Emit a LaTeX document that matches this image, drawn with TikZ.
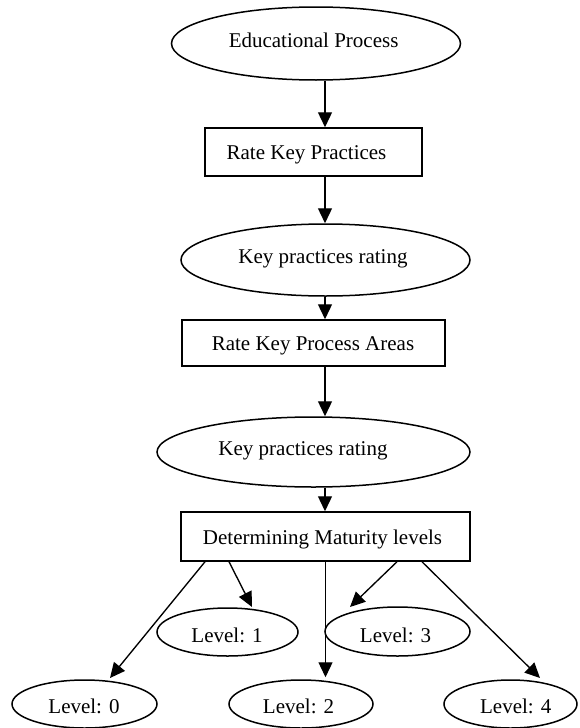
\documentclass[tikz,border=0pt]{standalone}
\usepackage{fontspec}
\setmainfont{Liberation Serif}
\usetikzlibrary{arrows.meta,shapes.geometric}
\begin{document}
\begin{tikzpicture}[x=1pt,y=-1pt,
  outline/.style={draw=black,line width=1.5pt,inner sep=0pt},
  oval/.style={outline,ellipse},
  box/.style={outline,rectangle},
  caption/.style={font=\fontsize{21}{25}\selectfont,inner sep=0pt,text height=14pt,text depth=0pt},
  flow/.style={line width=1.35pt,-{Triangle[length=15pt,width=14pt]}}
]
\useasboundingbox (0,0) rectangle (579,728);
\coordinate (col) at (325,0);

% main chain
\node[oval,minimum width=289pt,minimum height=73pt] (edu) at (316,43.5) {};
\node[caption] (edu-t) at (313.6,40) {Educational Process};

\node[box,minimum width=217pt,minimum height=48pt] (rkp) at (313.5,152) {};
\node[caption] (rkp-t) at (306.5,152) {Rate Key Practices};

\node[oval,minimum width=289pt,minimum height=72pt] (kpr1) at (325.5,260) {};
\node[caption] (kpr1-t) at (323,256) {Key practices rating};

\node[box,minimum width=263pt,minimum height=46pt] (rkpa) at (313.5,343) {};
\node[caption] (rkpa-t) at (313,343) {Rate Key Process Areas};

\node[oval,minimum width=313pt,minimum height=70pt] (kpr2) at (313.5,452) {};
\node[caption] (kpr2-t) at (303,448) {Key practices rating};

\node[box,minimum width=289pt,minimum height=49pt] (mat) at (325.5,536.5) {};
\node[caption] (mat-t) at (322.5,537) {Determining Maturity levels};

% maturity levels
\node[oval,minimum width=145pt,minimum height=48pt] (l0) at (84.5,704) {};
\node[caption] (l0-t) at (84,706) {Level: 0};
\node[oval,minimum width=141pt,minimum height=48pt] (l1) at (227.5,632) {};
\node[caption] (l1-t) at (227,635) {Level: 1};
\node[oval,minimum width=144pt,minimum height=48pt] (l2) at (301,704) {};
\node[caption] (l2-t) at (298.5,706) {Level: 2};
\node[oval,minimum width=145pt,minimum height=49pt] (l3) at (397.5,631.5) {};
\node[caption] (l3-t) at (395.5,635) {Level: 3};
\node[oval,minimum width=133pt,minimum height=48pt] (l4) at (510.5,704) {};
\node[caption] (l4-t) at (515.7,706) {Level: 4};

% vertical flow
\draw[flow] (col |- edu.south) -- (col |- rkp.north);
\draw[flow] (col |- rkp.south) -- (col |- kpr1.north);
\draw[flow] (col |- kpr1.south) -- (col |- rkpa.north);
\draw[flow] (col |- rkpa.south) -- (col |- kpr2.north);
\draw[flow] (col |- kpr2.south) -- (col |- mat.north);

% fan-out to the levels
\draw[flow] ([xshift=-120.5pt]mat.south) -- ([xshift=25.5pt,yshift=26pt]l0.center);
\draw[flow] ([xshift=-96.5pt]mat.south) -- ([xshift=24.5pt,yshift=25pt]l1.center);
\draw[flow] (mat.south) -- ([yshift=2pt]mat.south |- l2.north);
\draw[flow] ([xshift=71.5pt]mat.south) -- ([xshift=-47.5pt,yshift=24.5pt]l3.center);
\draw[flow] ([xshift=96.5pt]mat.south) -- ([xshift=29.5pt,yshift=26pt]l4.center);
\end{tikzpicture}
\end{document}
